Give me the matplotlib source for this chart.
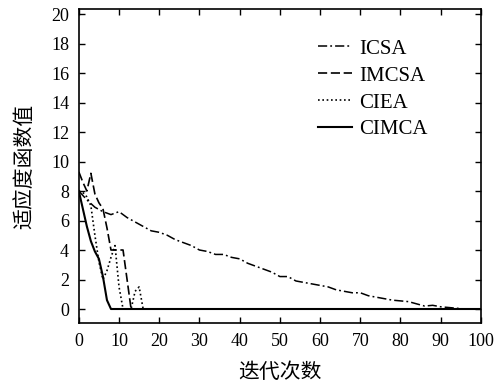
import matplotlib
matplotlib.use("Agg")
import matplotlib.pyplot as plt

# ---- data ----
icsa_x = [0, 2, 4, 6, 8, 10, 12, 14, 16, 18, 20, 22, 24, 26, 28, 30, 32, 34, 36, 38,
          40, 42, 44, 46, 48, 50, 52, 54, 56, 58, 60, 62, 64, 66, 68, 70, 72, 74, 76,
          78, 80, 82, 84, 86, 88, 90, 92, 94, 96, 98, 100]
icsa_y = [8.0, 7.4, 6.9, 6.6, 6.4, 6.6, 6.2, 5.9, 5.6, 5.3, 5.2, 5.0, 4.7, 4.5, 4.3,
          4.0, 3.9, 3.7, 3.7, 3.5, 3.4, 3.1, 2.9, 2.7, 2.5, 2.2, 2.2, 1.9, 1.8, 1.7,
          1.6, 1.5, 1.3, 1.2, 1.1, 1.1, 0.9, 0.8, 0.7, 0.6, 0.55, 0.5, 0.35, 0.2,
          0.25, 0.15, 0.1, 0.05, 0.0, 0.0, 0.0]

imcsa_x = [0, 1, 2, 3, 4, 5, 6, 7, 8, 9, 10, 11, 12, 13, 100]
imcsa_y = [9.3, 8.6, 8.0, 9.2, 7.8, 7.2, 6.8, 5.5, 4.0, 4.0, 4.0, 4.0, 2.0, 0.0, 0.0]

ciea_x = [0, 1, 2, 3, 4, 5, 6, 7, 8, 9, 10, 11, 12, 13, 14, 15, 16, 100]
ciea_y = [8.0, 7.9, 7.6, 7.0, 5.0, 3.2, 2.0, 2.6, 3.5, 4.3, 1.5, 0.0, 0.0, 0.0, 1.2,
          1.5, 0.0, 0.0]

cimca_x = [0, 1, 2, 3, 4, 5, 6, 7, 8, 100]
cimca_y = [8.0, 6.8, 5.6, 4.6, 3.9, 3.4, 2.2, 0.6, 0.0, 0.0]

series_names = ["ICSA", "IMCSA", "CIEA", "CIMCA"]
x_ticks = list(range(0, 101, 10))
y_ticks = list(range(0, 21, 2))
x_label = "迭代次数"
y_label = "适应度函数值"

# ---- figure ----
serif = ["Liberation Serif", "DejaVu Serif"]
cjk = ["Noto Sans CJK SC", "DejaVu Sans"]

fig = plt.figure(figsize=(5.02, 3.85), dpi=100)
ax = fig.add_axes([0.157, 0.161, 0.801, 0.816])

ax.plot(icsa_x, icsa_y, color="black", lw=1.1, dashes=(6, 2, 1.2, 2), label=series_names[0])
ax.plot(imcsa_x, imcsa_y, color="black", lw=1.2, dashes=(5.5, 2.2), label=series_names[1])
ax.plot(ciea_x, ciea_y, color="black", lw=1.2, dashes=(1, 1.6), label=series_names[2])
ax.plot(cimca_x, cimca_y, color="black", lw=1.5, linestyle="-", label=series_names[3])

ax.set_xlim(0, 100)
ax.set_ylim(-0.95, 20.35)
ax.set_xticks(x_ticks)
ax.set_yticks(y_ticks)
ax.tick_params(direction="in", top=True, right=True, length=4, width=1,
               labelsize=13, pad=7)
for lab in ax.get_xticklabels() + ax.get_yticklabels():
    lab.set_fontfamily(serif)
for sp in ax.spines.values():
    sp.set_linewidth(1.2)

ax.set_xlabel(x_label, fontsize=15, family=cjk, labelpad=8)
ax.set_ylabel(y_label, fontsize=15, family=cjk, labelpad=11)

leg = ax.legend(loc="upper left", bbox_to_anchor=(0.573, 0.93), frameon=False,
                prop={"family": serif, "size": 15}, handlelength=1.65,
                handletextpad=0.35, labelspacing=0.35, borderaxespad=0)

fig.savefig("out.png", dpi=100)
